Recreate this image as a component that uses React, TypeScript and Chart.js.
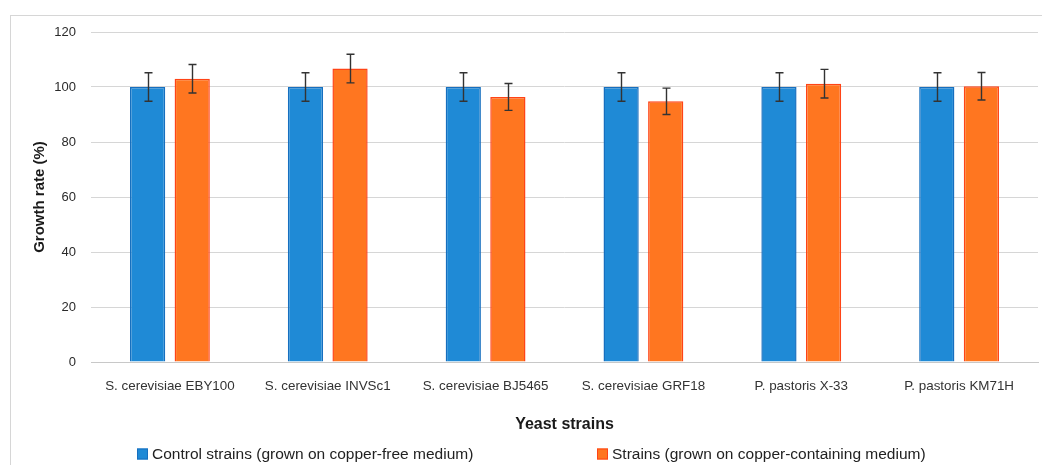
import React, { useEffect, useRef } from "react";
import { Chart, registerables } from "chart.js";

Chart.register(...registerables);

const categories = [
  "S. cerevisiae EBY100",
  "S. cerevisiae INVSc1",
  "S. cerevisiae BJ5465",
  "S. cerevisiae GRF18",
  "P. pastoris X-33",
  "P. pastoris KM71H",
];
const controlValues = [100, 100, 100, 100, 100, 100];
const controlErrors = [5.2, 5.2, 5.2, 5.2, 5.2, 5.2];
const copperValues = [103.0, 106.7, 96.4, 94.8, 101.2, 100.3];
const copperErrors = [5.2, 5.2, 4.9, 4.8, 5.2, 5.0];
const yTicks = [0, 20, 40, 60, 80, 100, 120];
const seriesLabels = [
  "Control strains (grown on copper-free medium)",
  "Strains (grown on copper-containing medium)",
];
const xTitle = "Yeast strains";
const yTitle = "Growth rate (%)";

const FONT = "'Liberation Sans', Arial, sans-serif";

const framePlugin = {
  id: "frame",
  beforeDraw(chart: any) {
    const ctx = chart.ctx;
    ctx.save();
    ctx.fillStyle = "#ffffff";
    ctx.fillRect(0, 0, chart.width, chart.height);
    ctx.strokeStyle = "#d6d6d6";
    ctx.lineWidth = 1;
    ctx.strokeRect(10.5, 15.5, chart.width + 20, chart.height + 20);
    ctx.restore();
  },
};

const errorBarPlugin = {
  id: "errorBars",
  afterDatasetsDraw(chart: any) {
    const ctx = chart.ctx;
    const yScale = chart.scales.y;
    ctx.save();
    ctx.strokeStyle = "#333333";
    ctx.lineWidth = 1.4;
    chart.data.datasets.forEach((ds: any, i: number) => {
      const meta = chart.getDatasetMeta(i);
      meta.data.forEach((bar: any, j: number) => {
        const v = ds.data[j];
        const e = ds.errorBars[j];
        const x = Math.round(bar.x) + 0.5;
        const yTop = yScale.getPixelForValue(v + e);
        const yBot = yScale.getPixelForValue(v - e);
        ctx.beginPath();
        ctx.moveTo(x, yTop);
        ctx.lineTo(x, yBot);
        ctx.moveTo(x - 4, yTop);
        ctx.lineTo(x + 4, yTop);
        ctx.moveTo(x - 4, yBot);
        ctx.lineTo(x + 4, yBot);
        ctx.stroke();
      });
    });
    ctx.restore();
  },
};

const customLegendPlugin = {
  id: "customLegend",
  afterDraw(chart: any, _args: any, opts: any) {
    const ctx = chart.ctx;
    ctx.save();
    ctx.font = `15.5px ${FONT}`;
    ctx.textBaseline = "middle";
    ctx.textAlign = "left";
    chart.data.datasets.forEach((ds: any, i: number) => {
      const x = opts.xs[i];
      const y = opts.y;
      ctx.fillStyle = ds.backgroundColor;
      ctx.fillRect(x, y - 5.5, 11, 11);
      ctx.strokeStyle = ds.borderColor;
      ctx.lineWidth = 1;
      ctx.strokeRect(x + 0.5, y - 5, 10, 10);
      ctx.fillStyle = "#222222";
      ctx.fillText(ds.label, x + 15, y + 1);
    });
    ctx.restore();
  },
};

export default function App() {
  const ref = useRef<HTMLCanvasElement | null>(null);

  useEffect(() => {
    if (!ref.current) return;
    const chart = new Chart(ref.current, {
      type: "bar",
      data: {
        labels: categories,
        datasets: [
          {
            label: seriesLabels[0],
            data: controlValues,
            errorBars: controlErrors,
            backgroundColor: "#1f8ad6",
            borderColor: "#166fbf",
            borderWidth: 1.5,
            categoryPercentage: 0.565,
            barPercentage: 0.79,
          } as any,
          {
            label: seriesLabels[1],
            data: copperValues,
            errorBars: copperErrors,
            backgroundColor: "#ff7620",
            borderColor: "#ff4416",
            borderWidth: 1.5,
            categoryPercentage: 0.565,
            barPercentage: 0.79,
          } as any,
        ],
      },
      options: {
        animation: false,
        responsive: false,
        maintainAspectRatio: false,
        layout: { padding: { left: 0, right: 4, top: 32, bottom: 28 } },
        plugins: {
          legend: { display: false },
          tooltip: { enabled: false },
          customLegend: { xs: [137, 597], y: 454 },
        } as any,
        scales: {
          x: {
            grid: { display: false },
            border: { display: true, color: "#c8c8c8", width: 1 },
            ticks: {
              color: "#333333",
              font: { family: FONT, size: 13.4 },
              padding: 8,
              maxRotation: 0,
              autoSkip: false,
            },
            title: {
              display: true,
              text: xTitle,
              color: "#1a1a1a",
              font: { family: FONT, size: 16, weight: "bold" },
              padding: { top: 0, bottom: 3 },
            },
            afterFit(scale: any) {
              scale.height = 75;
            },
          },
          y: {
            min: 0,
            max: 120,
            afterBuildTicks(scale: any) {
              scale.ticks = yTicks.map((v) => ({ value: v }));
            },
            grid: { color: "#d6d6d6", drawTicks: false, lineWidth: 1 },
            border: { display: false },
            ticks: {
              color: "#2a2a2a",
              font: { family: FONT, size: 13 },
              padding: 15,
            },
            title: {
              display: true,
              text: yTitle,
              color: "#1a1a1a",
              font: { family: FONT, size: 15, weight: "bold" },
              padding: { top: 31, bottom: 3 },
            },
            afterFit(scale: any) {
              scale.width = 91;
            },
          },
        },
      },
      plugins: [framePlugin, errorBarPlugin, customLegendPlugin],
    });
    return () => chart.destroy();
  }, []);

  return (
    <div style={{ position: "absolute", left: 0, top: 0, width: 1042, height: 465 }}>
      <canvas ref={ref} width={1042} height={465} style={{ width: 1042, height: 465 }} />
    </div>
  );
}
